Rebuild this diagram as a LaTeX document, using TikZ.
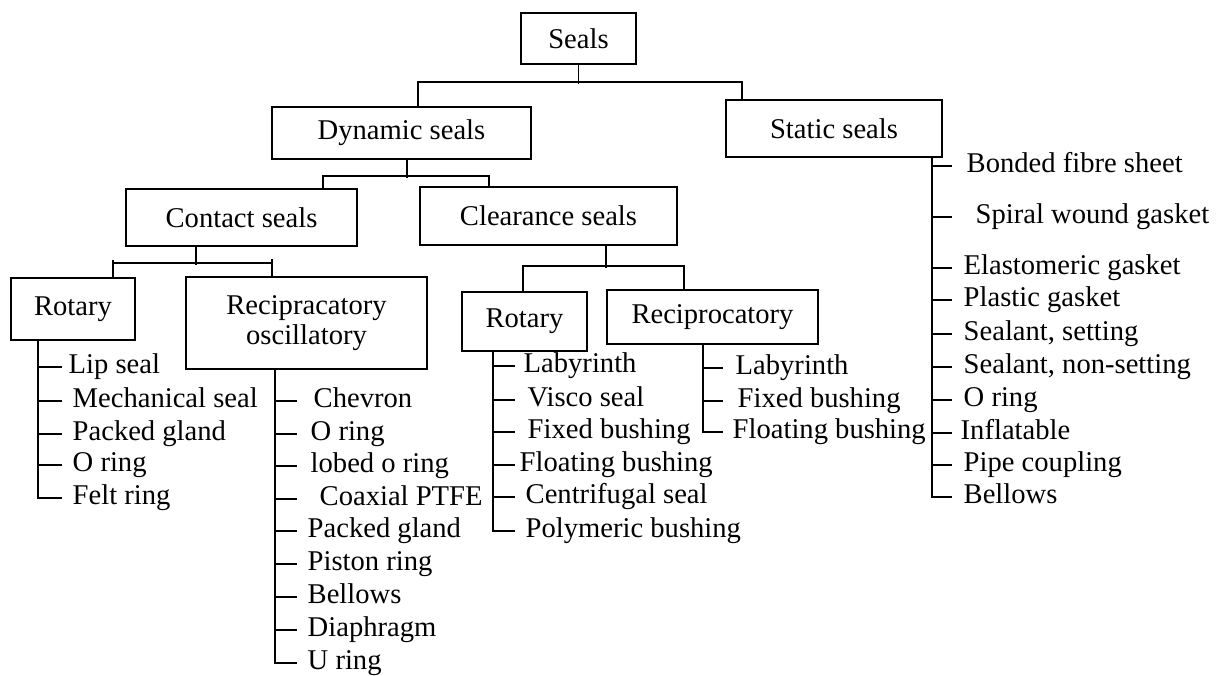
\documentclass[tikz,border=0pt]{standalone}
\usepackage{fontspec}
\setmainfont{Liberation Serif}
\tikzset{
  box/.style={draw, line width=1pt, align=center, inner sep=0pt},
  item/.style={anchor=west, inner sep=0pt, text height=0.66em, text depth=0pt},
}

\begin{document}
\begin{tikzpicture}[x=0.5pt, y=-0.5pt, line width=0.7pt, font=\fontsize{14.3}{17}\selectfont]
	\useasboundingbox (0,0) rectangle (1218,675);
	% boxes
	\node[box, minimum width=57.5pt, minimum height=25.5pt] (seals) at (578.5,38.5) {Seals};
	\node[box, minimum width=129.5pt, minimum height=26pt] (dyn) at (401.5,133) {Dynamic seals};
	\node[box, minimum width=108pt, minimum height=28.5pt] (stat) at (834,128.5) {Static seals};
	\node[box, minimum width=115.5pt, minimum height=28.5pt] (cont) at (241.5,217.5) {Contact seals};
	\node[box, minimum width=128.5pt, minimum height=29pt] (clear) at (548.5,216) {Clearance seals};
	\node[box, minimum width=62pt, minimum height=31pt] (rot1) at (73,309) {Rotary};
	\node[box, minimum width=120.5pt, minimum height=46pt, font=\fontsize{14.3}{15}\selectfont] (osc) at (306.5,323) {Recipracatory\\oscillatory};
	\node[box, minimum width=62.5pt, minimum height=29.5pt] (rot2) at (524.5,321.5) {Rotary};
	\node[box, minimum width=105.5pt, minimum height=27pt] (rec2) at (712.5,317) {Reciprocatory};

	% tree links
	\draw (seals.south) -- ++(0,19);
	\draw ([xshift=8.25pt]dyn.north) -- ++(0,-24) -| ([xshift=-46pt]stat.north);
	\draw ([xshift=2.75pt]dyn.south) -- ++(0,18);
	\draw ([xshift=40.75pt]cont.north) -- ++(0,-12) -| ([xshift=-29.75pt]clear.north);
	\draw ([xshift=-22.75pt]cont.south) -- ++(0,18);
	\draw ([xshift=20pt]rot1.north) -- ++(0,-17) ++(0,3) -| ([xshift=-17.25pt]osc.north) -- ++(0,-17);
	\draw ([xshift=28.75pt]clear.south) -- ++(0,22);
	\draw ([xshift=-0.75pt]rot2.north) -- ++(0,-25) -| ([xshift=-14.25pt]rec2.north);

	% contact / rotary
	\coordinate (sa) at ([xshift=-17.5pt]rot1.south);
	\coordinate (ta) at (62,0);
	\node[item] (a1) at (68,367) {Lip seal};
	\node[item] (a2) at (72,401) {Mechanical seal};
	\node[item] (a3) at (72,434) {Packed gland};
	\node[item] (a4) at (72,465) {O ring};
	\node[item] (a5) at (72,498) {Felt ring};
	\draw (sa) |- (ta |- a5.west);
	\draw (sa |- a1.west) -- (ta |- a1.west);
	\draw (sa |- a2.west) -- (ta |- a2.west);
	\draw (sa |- a3.west) -- (ta |- a3.west);
	\draw (sa |- a4.west) -- (ta |- a4.west);

	% contact / reciprocating
	\coordinate (sb) at ([xshift=-15.75pt]osc.south);
	\coordinate (tb) at (297,0);
	\node[item] (b1) at (313,401) {Chevron};
	\node[item] (b2) at (310,434) {O ring};
	\node[item] (b3) at (310,466) {lobed o ring};
	\node[item] (b4) at (319,499) {Coaxial PTFE};
	\node[item] (b5) at (307,531) {Packed gland};
	\node[item] (b6) at (307,564) {Piston ring};
	\node[item] (b7) at (307,597) {Bellows};
	\node[item] (b8) at (307,630) {Diaphragm};
	\node[item] (b9) at (307,663) {U ring};
	\draw (sb) |- (tb |- b9.west);
	\draw (sb |- b1.west) -- (tb |- b1.west);
	\draw (sb |- b2.west) -- (tb |- b2.west);
	\draw (sb |- b3.west) -- (tb |- b3.west);
	\draw (sb |- b4.west) -- (tb |- b4.west);
	\draw (sb |- b5.west) -- (tb |- b5.west);
	\draw (sb |- b6.west) -- (tb |- b6.west);
	\draw (sb |- b7.west) -- (tb |- b7.west);
	\draw (sb |- b8.west) -- (tb |- b8.west);

	% clearance / rotary
	\coordinate (sc) at ([xshift=-15.75pt]rot2.south);
	\coordinate (tc) at (515,0);
	\node[item] (c1) at (523,366) {Labyrinth};
	\node[item] (c2) at (527,400) {Visco seal};
	\node[item] (c3) at (527,432) {Fixed bushing};
	\node[item] (c4) at (519,465) {Floating bushing};
	\node[item] (c5) at (525,497) {Centrifugal seal};
	\node[item] (c6) at (525,531) {Polymeric bushing};
	\draw (sc) |- (tc |- c6.west);
	\draw (sc |- c1.west) -- (tc |- c1.west);
	\draw (sc |- c2.west) -- (tc |- c2.west);
	\draw (sc |- c3.west) -- (tc |- c3.west);
	\draw (sc |- c4.west) -- (tc |- c4.west);
	\draw (sc |- c5.west) -- (tc |- c5.west);

	% clearance / reciprocating
	\coordinate (sd) at ([xshift=-4.75pt]rec2.south);
	\coordinate (td) at (723,0);
	\node[item] (d1) at (735,368) {Labyrinth};
	\node[item] (d2) at (737,401) {Fixed bushing};
	\node[item] (d3) at (732,432) {Floating bushing};
	\draw (sd) |- (td |- d3.west);
	\draw (sd |- d1.west) -- (td |- d1.west);
	\draw (sd |- d2.west) -- (td |- d2.west);

	% static
	\coordinate (se) at ([xshift=49pt]stat.south);
	\coordinate (te) at (952,0);
	\node[item] (e1) at (966,166) {Bonded fibre sheet};
	\node[item] (e2) at (975,217) {Spiral wound gasket};
	\node[item] (e3) at (963,268) {Elastomeric gasket};
	\node[item] (e4) at (963,300) {Plastic gasket};
	\node[item] (e5) at (963,334) {Sealant, setting};
	\node[item] (e6) at (963,367) {Sealant, non-setting};
	\node[item] (e7) at (963,400) {O ring};
	\node[item] (e8) at (960,433) {Inflatable};
	\node[item] (e9) at (963,465) {Pipe coupling};
	\node[item] (e10) at (963,497) {Bellows};
	\draw (se) |- (te |- e10.west);
	\draw (se |- e1.west) -- (te |- e1.west);
	\draw (se |- e2.west) -- (te |- e2.west);
	\draw (se |- e3.west) -- (te |- e3.west);
	\draw (se |- e4.west) -- (te |- e4.west);
	\draw (se |- e5.west) -- (te |- e5.west);
	\draw (se |- e6.west) -- (te |- e6.west);
	\draw (se |- e7.west) -- (te |- e7.west);
	\draw (se |- e8.west) -- (te |- e8.west);
	\draw (se |- e9.west) -- (te |- e9.west);
\end{tikzpicture}
\end{document}
